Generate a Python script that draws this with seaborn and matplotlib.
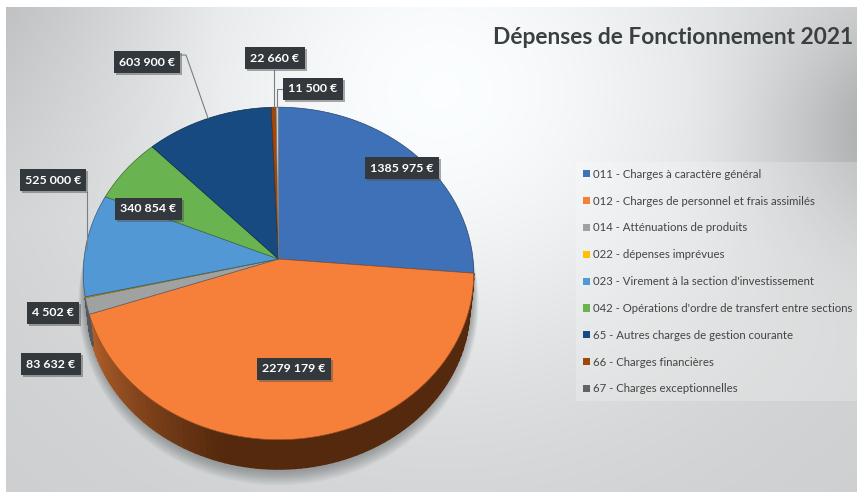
import numpy as np
import matplotlib
matplotlib.use("Agg")
import matplotlib.pyplot as plt
import matplotlib.patheffects as pe
from matplotlib.patches import Patch, Polygon
from matplotlib.transforms import Affine2D
import seaborn as sns

categories = [
    "011 - Charges à caractère général",
    "012 - Charges de personnel et frais assimilés",
    "014 - Atténuations de produits",
    "022 - dépenses imprévues",
    "023 - Virement à la section d'investissement",
    "042 - Opérations d'ordre de transfert entre sections",
    "65 - Autres charges de gestion courante",
    "66 - Charges financières",
    "67 - Charges exceptionnelles",
]
values = [1385975, 2279179, 83632, 4502, 525000, 340854, 603900, 22660, 11500]
colors = ["#3f71b9", "#f6803a", "#a0a1a1", "#ffc000", "#5198d5",
          "#6ab351", "#174a80", "#9e480e", "#c9c9c9"]
legend_colors = colors[:-1] + ["#636363"]

sns.set_theme(style="white")
plt.rcParams["font.family"] = ["Lato", "DejaVu Sans"]

W, H = 857, 492
fig = plt.figure(figsize=(W / 100, H / 100), dpi=100, facecolor="white")
ax = fig.add_axes([0, 0, 1, 1])

wedges, _ = ax.pie(values, colors=sns.color_palette(colors), startangle=90, counterclock=False)

ax.set_aspect("auto")
ax.set_axis_off()

# background gradient
xx, yy = np.meshgrid(np.arange(6, W), np.arange(7, H))
d2 = ((xx - 440) / 420.0) ** 2 + ((yy - 90) / 385.0) ** 2
grey = 207 + 48 * np.exp(-1.6 * d2)
grey -= 22 * np.clip(1 - yy / 220.0, 0, 1) * np.clip(1 - xx / 220.0, 0, 1)
grey -= 38 * np.exp(-((yy - 130) / 110.0) ** 2) * np.clip((xx - 680) / 177.0, 0, 1) ** 1.5
grey = np.clip(grey, 0, 255) / 255
bg = np.dstack([grey * 0.985, grey * 0.995, grey])
ax.imshow(bg, extent=(6, W, H, 7), aspect="auto", zorder=0, interpolation="bilinear")
ax.set_xlim(0, W)
ax.set_ylim(H, 0)


# pie tilted in perspective: unit circle coords -> pixels
def warp(pts, scale=1.0, dy=0.0):
    u, v = pts[:, 0], pts[:, 1]
    w = 1 + 0.087 * v
    return np.column_stack([278.5 + 194.5 * scale * u / w, 259 + dy - 165 * scale * v / w])


def rim(t1, t2, n=120):
    t = np.radians(np.linspace(t1, t2, n))
    return np.column_stack([np.cos(t), np.sin(t)])


# soft shadow under the pie, opens out from the right and left edges
for i in range(16):
    s = rim(-180, 0)
    grow = 0.07 - 0.005 * i
    outer = warp(s, scale=1 + grow * np.abs(s[:, 1]) ** 0.5, dy=33 * np.abs(s[:, 1]) ** 0.4)
    ax.add_patch(Polygon(outer, closed=True, fc="#3a3f42", ec="none", alpha=0.028, zorder=1))

# side wall, darker towards the front
wall_dark = np.array([0.33, 0.16, 0.05])
wall_light = np.array([0.70, 0.38, 0.17])
for idx in [1, 2]:
    t1, t2 = wedges[idx].theta1, wedges[idx].theta2
    ts = np.linspace(t1, t2, 90)
    for a, b in zip(ts[:-1], ts[1:]):
        pair = rim(a, b, 2)
        top = warp(pair)
        low = warp(pair, scale=0.98, dy=33)
        if idx == 1:
            m = 0.5 * (a + b)
            mix = np.clip((-105 - m) / 55.0, 0, 1)
            c = wall_dark + (wall_light - wall_dark) * mix
        else:
            c = "#54585b"
        ax.add_patch(Polygon(np.vstack([top, low[::-1]]), closed=True, fc=c, ec=c, lw=1.0, zorder=2))

# top face
for w, c in zip(wedges, colors):
    path = w.get_patch_transform().transform_path(w.get_path())
    poly = path.to_polygons(Affine2D().scale(300))[0] / 300.0
    w.set_visible(False)
    edge = np.array(matplotlib.colors.to_rgb(c)) * 0.6
    ax.add_patch(Polygon(warp(poly), closed=True, fc=c, ec=edge, lw=0.5, zorder=3))


def rim_mid(idx):
    w = wedges[idx]
    return warp(rim(0.5 * (w.theta1 + w.theta2), 0.5 * (w.theta1 + w.theta2), 1))[0]


# leader lines
line_kw = dict(color="#7b7f82", lw=0.8, zorder=4)
p = rim_mid(6)
ax.plot([181, 186, p[0]], [55, 55, p[1]], **line_kw)
p = rim_mid(7)
ax.plot([p[0], p[0]], [70, p[1]], **line_kw)
p = rim_mid(8)
ax.plot([284, p[0], p[0]], [89, 89, p[1]], **line_kw)
ax.plot([87, 87], [192, 250], **line_kw)

# value labels
label_texts = ["1385 975 €", "2279 179 €", "83 632 €", "4 502 €", "525 000 €",
               "340 854 €", "603 900 €", "22 660 €", "11 500 €"]
label_x = [402, 294, 51, 53, 53, 148.5, 147, 275, 313]
label_y = [168, 369, 364, 313, 180, 209, 62, 58, 89]
for txt, x, y in zip(label_texts, label_x, label_y):
    t = ax.text(x, y, txt, color="white", fontsize=8.9, fontweight="bold", ha="center", va="center",
                zorder=6, bbox=dict(boxstyle="square,pad=0.42", fc="#33383c", ec="none"))
    t.get_bbox_patch().set_path_effects([
        pe.SimplePatchShadow(offset=(1.5, -1.5), shadow_rgbFace="#555555", alpha=0.5), pe.Normal()])

# title
ax.text(853, 38, "Dépenses de Fonctionnement 2021", fontsize=16.4, fontweight="bold",
        color="#3a3f42", ha="right", va="center", zorder=6)

# legend
handles = [Patch(fc=c, ec="none") for c in legend_colors]
leg = ax.legend(handles, categories, loc="upper left", bbox_to_anchor=(576 / W, 1 - 162 / H),
                fontsize=8.2, labelspacing=1.39, handlelength=0.6, handleheight=0.6,
                handletextpad=0.27, borderaxespad=0, borderpad=0.6, frameon=True,
                fancybox=False, edgecolor="none", facecolor="white", framealpha=0.22,
                labelcolor="#444444")
leg.set_zorder(5)

fig.savefig("out.png", dpi=100)
plt.close()
